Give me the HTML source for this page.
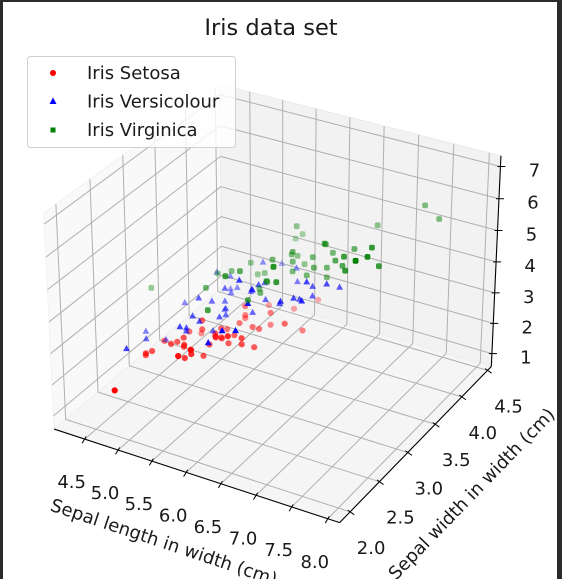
<!DOCTYPE html>
<html><head><meta charset="utf-8">
<style>
html,body{margin:0;padding:0;background:#fff;}
body{width:562px;height:579px;overflow:hidden;position:relative;font-family:"DejaVu Sans","Liberation Sans",sans-serif;}
svg text{font-family:"DejaVu Sans","Liberation Sans",sans-serif;fill:#1a1a1a;}
</style></head>
<body>
<svg id="chart" width="562" height="579" viewBox="0 0 562 579" xmlns="http://www.w3.org/2000/svg">
<rect x="0" y="0" width="562" height="579" fill="#fff"/>
<g id="panes"></g>
<g id="grid"></g>
<g id="axes"></g>
<g id="points"></g>
<g id="labels"></g>
<text x="271" y="35" font-size="22.5" text-anchor="middle">Iris data set</text>
<text x="0" y="0" font-size="18" text-anchor="middle" transform="translate(162,548) rotate(18.5)">Sepal length in width (cm)</text>
<text x="0" y="0" font-size="18" text-anchor="middle" transform="translate(476,498) rotate(-46)">Sepal width in width (cm)</text>
<g>
<rect x="27.5" y="56.5" width="208" height="91" rx="3" fill="#fff" fill-opacity="0.8" stroke="#d0d0d0"/>
<circle cx="53" cy="73" r="3" fill="#ff0000"/>
<text x="87" y="79" font-size="18">Iris Setosa</text>
<polygon points="53,97.5 56.5,104 49.5,104" fill="#0000ff"/>
<text x="87" y="107.5" font-size="18">Iris Versicolour</text>
<rect x="50.5" y="127.5" width="5" height="5" fill="#008000"/>
<text x="87" y="136" font-size="18">Iris Virginica</text>
</g>
<rect x="0" y="0" width="3" height="579" fill="#2b2b2b"/>
<rect x="0" y="0" width="562" height="2" fill="#2b2b2b"/>
<rect x="557" y="0" width="5" height="579" fill="#2b2b2b"/>
</svg>
<script>
// ---- data (Iris: sepal length, sepal width, petal length) ----
var setosaSL=[5.1,4.9,4.7,4.6,5.0,5.4,4.6,5.0,4.4,4.9,5.4,4.8,4.8,4.3,5.8,5.7,5.4,5.1,5.7,5.1,5.4,5.1,4.6,5.1,4.8,5.0,5.0,5.2,5.2,4.7,4.8,5.4,5.2,5.5,4.9,5.0,5.5,4.9,4.4,5.1,5.0,4.5,4.4,5.0,5.1,4.8,5.1,4.6,5.3,5.0];
var setosaSW=[3.5,3.0,3.2,3.1,3.6,3.9,3.4,3.4,2.9,3.1,3.7,3.4,3.0,3.0,4.0,4.4,3.9,3.5,3.8,3.8,3.4,3.7,3.6,3.3,3.4,3.0,3.4,3.5,3.4,3.2,3.1,3.4,4.1,4.2,3.1,3.2,3.5,3.1,3.0,3.4,3.5,2.3,3.2,3.5,3.8,3.0,3.8,3.2,3.7,3.3];
var setosaPL=[1.4,1.4,1.3,1.5,1.4,1.7,1.4,1.5,1.4,1.5,1.5,1.6,1.4,1.1,1.2,1.5,1.3,1.4,1.7,1.5,1.7,1.5,1.0,1.7,1.9,1.6,1.6,1.5,1.4,1.6,1.6,1.5,1.5,1.4,1.5,1.2,1.3,1.5,1.3,1.5,1.3,1.3,1.3,1.6,1.9,1.4,1.6,1.4,1.5,1.4];
var versiSL=[7.0,6.4,6.9,5.5,6.5,5.7,6.3,4.9,6.6,5.2,5.0,5.9,6.0,6.1,5.6,6.7,5.6,5.8,6.2,5.6,5.9,6.1,6.3,6.1,6.4,6.6,6.8,6.7,6.0,5.7,5.5,5.5,5.8,6.0,5.4,6.0,6.7,6.3,5.6,5.5,5.5,6.1,5.8,5.0,5.6,5.7,5.7,6.2,5.1,5.7];
var versiSW=[3.2,3.2,3.1,2.3,2.8,2.8,3.3,2.4,2.9,2.7,2.0,3.0,2.2,2.9,2.9,3.1,3.0,2.7,2.2,2.5,3.2,2.8,2.5,2.8,2.9,3.0,2.8,3.0,2.9,2.6,2.4,2.4,2.7,2.7,3.0,3.4,3.1,2.3,3.0,2.5,2.6,3.0,2.6,2.3,2.7,3.0,2.9,2.9,2.5,2.8];
var versiPL=[4.7,4.5,4.9,4.0,4.6,4.5,4.7,3.3,4.6,3.9,3.5,4.2,4.0,4.7,3.6,4.4,4.5,4.1,4.5,3.9,4.8,4.0,4.9,4.7,4.3,4.4,4.8,5.0,4.5,3.5,3.8,3.7,3.9,5.1,4.5,4.5,4.7,4.4,4.1,4.0,4.4,4.6,4.0,3.3,4.2,4.2,4.2,4.3,3.0,4.1];
var virgSL=[6.3,5.8,7.1,6.3,6.5,7.6,4.9,7.3,6.7,7.2,6.5,6.4,6.8,5.7,5.8,6.4,6.5,7.7,7.7,6.0,6.9,5.6,7.7,6.3,6.7,7.2,6.2,6.1,6.4,7.2,7.4,7.9,6.4,6.3,6.1,7.7,6.3,6.4,6.0,6.9,6.7,6.9,5.8,6.8,6.7,6.7,6.3,6.5,6.2,5.9];
var virgSW=[3.3,2.7,3.0,2.9,3.0,3.0,2.5,2.9,2.5,3.6,3.2,2.7,3.0,2.5,2.8,3.2,3.0,3.8,2.6,2.2,3.2,2.8,2.8,2.7,3.3,3.2,2.8,3.0,2.8,3.0,2.8,3.8,2.8,2.8,2.6,3.0,3.4,3.1,3.0,3.1,3.1,3.1,2.7,3.2,3.3,3.0,2.5,3.0,3.4,3.0];
var virgPL=[6.0,5.1,5.9,5.6,5.8,6.6,4.5,6.3,5.8,6.1,5.1,5.3,5.5,5.0,5.1,5.3,5.5,6.7,6.9,5.0,5.7,4.9,6.7,4.9,5.7,6.0,4.8,4.9,5.6,5.8,6.1,6.4,5.6,5.1,5.6,6.1,5.6,5.5,4.8,5.4,5.6,5.1,5.1,5.9,5.7,5.2,5.0,5.2,5.4,5.1];
var xTicks=[4.5,5.0,5.5,6.0,6.5,7.0,7.5,8.0];
var yTicks=[2.0,2.5,3.0,3.5,4.0,4.5];
var zTicks=[1,2,3,4,5,6,7];
var xTickLabels=["4.5","5.0","5.5","6.0","6.5","7.0","7.5","8.0"];
var yTickLabels=["2.0","2.5","3.0","3.5","4.0","4.5"];
var zTickLabels=["1","2","3","4","5","6","7"];

var NS="http://www.w3.org/2000/svg";
function mk(tag,attrs,parent){var e=document.createElementNS(NS,tag);for(var k in attrs)e.setAttribute(k,attrs[k]);parent.appendChild(e);return e;}
function mn(a){return Math.min.apply(null,a);} function mx(a){return Math.max.apply(null,a);}
var allX=setosaSL.concat(versiSL,virgSL), allY=setosaSW.concat(versiSW,virgSW), allZ=setosaPL.concat(versiPL,virgPL);
function lim(a){var lo=mn(a),hi=mx(a),r=hi-lo;return [lo-0.05*r,hi+0.05*r];}
var XV=lim(allX),YV=lim(allY),ZV=lim(allZ);
function pane(v){var r=(v[1]-v[0])/48;return [v[0]-r,v[1]+r];}
var XP=pane(XV),YP=pane(YV),ZP=pane(ZV);
var box=[4,4,3],bn=Math.sqrt(41),f=1.8294640721620434/bn;box=box.map(function(b){return b*f;});
var el=30*Math.PI/180,az=-60*Math.PI/180;
var w=[Math.cos(el)*Math.cos(az),Math.cos(el)*Math.sin(az),Math.sin(el)];
var R=[box[0]/2,box[1]/2,box[2]/2];
var eye=[R[0]+10*w[0],R[1]+10*w[1],R[2]+10*w[2]];
var un=Math.hypot(w[1],w[0]);var u=[-w[1]/un,w[0]/un,0];
var v=[w[1]*u[2]-w[2]*u[1],w[2]*u[0]-w[0]*u[2],w[0]*u[1]-w[1]*u[0]];
function raw(x,y,z){
  var X=(x-XV[0])/(XV[1]-XV[0])*box[0],Y=(y-YV[0])/(YV[1]-YV[0])*box[1],Z=(z-ZV[0])/(ZV[1]-ZV[0])*box[2];
  var d=[X-eye[0],Y-eye[1],Z-eye[2]];
  var xe=u[0]*d[0]+u[1]*d[1]+u[2]*d[2],ye=v[0]*d[0]+v[1]*d[1]+v[2]*d[2],ze=w[0]*d[0]+w[1]*d[1]+w[2]*d[2];
  return [xe/(-ze),ye/(-ze),-ze];
}
var anchors=[[XP[0],YP[0],ZP[0],54,428],[XP[1],YP[0],ZP[0],340,522],[XP[1],YP[1],ZP[0],490,369],[XP[1],YP[1],ZP[1],502,155]];
function fit(idx,pidx){var n=anchors.length,sa=0,sb=0,saa=0,sab=0;anchors.forEach(function(a){var p=raw(a[0],a[1],a[2])[idx];sa+=p;sb+=a[pidx];saa+=p*p;sab+=p*a[pidx];});var k=(n*sab-sa*sb)/(n*saa-sa*sa);return [k,(sb-k*sa)/n];}
var FX=fit(0,3),FY=fit(1,4);
function P(x,y,z){var r=raw(x,y,z);return [FX[1]+FX[0]*r[0],FY[1]+FY[0]*r[1],r[2]];}
function pts(list){return list.map(function(p){var q=P(p[0],p[1],p[2]);return q[0].toFixed(1)+","+q[1].toFixed(1);}).join(" ");}

var gP=document.getElementById('panes'),gG=document.getElementById('grid'),gA=document.getElementById('axes'),gPt=document.getElementById('points'),gL=document.getElementById('labels');
var e;
e=mk('polygon',{points:pts([[XP[0],YP[0],ZP[0]],[XP[0],YP[1],ZP[0]],[XP[0],YP[1],ZP[1]],[XP[0],YP[0],ZP[1]]]),fill:'#f9f9f9',stroke:'#f2f2f2'},gP);


e=mk('polygon',{points:pts([[XP[0],YP[1],ZP[0]],[XP[1],YP[1],ZP[0]],[XP[1],YP[1],ZP[1]],[XP[0],YP[1],ZP[1]]]),fill:'#f2f2f2',stroke:'#ebebeb'},gP);


e=mk('polygon',{points:pts([[XP[0],YP[0],ZP[0]],[XP[1],YP[0],ZP[0]],[XP[1],YP[1],ZP[0]],[XP[0],YP[1],ZP[0]]]),fill:'#f5f5f5',stroke:'#eeeeee'},gP);



function gl(a,b,name){var p=P(a[0],a[1],a[2]),q=P(b[0],b[1],b[2]);var l=mk('line',{x1:p[0],y1:p[1],x2:q[0],y2:q[1],stroke:'#b0b0b0','stroke-width':1},gG);

}
xTicks.forEach(function(t){if(t<XV[0]||t>XV[1])return;gl([t,YP[1],ZP[0]],[t,YP[1],ZP[1]],'grid-x-back');gl([t,YP[0],ZP[0]],[t,YP[1],ZP[0]],'grid-x-floor');});
yTicks.forEach(function(t){if(t<YV[0]||t>YV[1])return;gl([XP[0],t,ZP[0]],[XP[0],t,ZP[1]],'grid-y-side');gl([XP[0],t,ZP[0]],[XP[1],t,ZP[0]],'grid-y-floor');});
zTicks.forEach(function(t){if(t<ZV[0]||t>ZV[1])return;gl([XP[0],YP[0],t],[XP[0],YP[1],t],'grid-z-side');gl([XP[0],YP[1],t],[XP[1],YP[1],t],'grid-z-back');});

function al(a,b,name){var p=P(a[0],a[1],a[2]),q=P(b[0],b[1],b[2]);var l=mk('line',{x1:p[0],y1:p[1],x2:q[0],y2:q[1],stroke:'#000','stroke-width':1.1},gA);

}
al([XP[0],YP[0],ZP[0]],[XP[1],YP[0],ZP[0]],'x-axis-line');
al([XP[1],YP[0],ZP[0]],[XP[1],YP[1],ZP[0]],'y-axis-line');
al([XP[1],YP[1],ZP[0]],[XP[1],YP[1],ZP[1]],'z-axis-line');

function tick(pt,dx,dy,lx,ly,txt,name){
  var p=P(pt[0],pt[1],pt[2]);var n=Math.hypot(dx,dy);
  var l=mk('line',{x1:p[0]-dx/n*3,y1:p[1]-dy/n*3,x2:p[0]+dx/n*5,y2:p[1]+dy/n*5,stroke:'#000','stroke-width':1},gA);
  
  
  var t=mk('text',{x:p[0]+lx,y:p[1]+ly+6,'font-size':18,'text-anchor':'middle'},gL);
  t.textContent=txt;
  
  
}
xTicks.forEach(function(t,i){if(t<XV[0]||t>XV[1])return;tick([t,YP[0],ZP[0]],-0.6,1,-13,43,xTickLabels[i],'x-tick');});
yTicks.forEach(function(t,i){if(t<YV[0]||t>YV[1])return;tick([XP[1],t,ZP[0]],1,0.7,21,36,yTickLabels[i],'y-tick');});
zTicks.forEach(function(t,i){if(t<ZV[0]||t>ZV[1])return;tick([XP[1],YP[1],t],1,0,34,4,zTickLabels[i],'z-tick');});

var series=[{sl:setosaSL,sw:setosaSW,pl:setosaPL,c:'#ff0000',m:'o',n:'setosa'},{sl:versiSL,sw:versiSW,pl:versiPL,c:'#0000ff',m:'^',n:'versicolour'},{sl:virgSL,sw:virgSW,pl:virgPL,c:'#008000',m:'s',n:'virginica'}];
var all=[];
series.forEach(function(s){var arr=s.sl.map(function(x,i){return P(x,s.sw[i],s.pl[i]);});var ds=arr.map(function(a){return a[2];});var d0=mn(ds),d1=mx(ds);
  arr.forEach(function(a,i){all.push({x:a[0],y:a[1],d:a[2],al:1-0.7*((a[2]-d0)/((d1-d0)||1)),s:s});});});
all.sort(function(a,b){return b.d-a.d;});
all.forEach(function(p){var el;
  if(p.s.m==='o'){el=mk('circle',{cx:p.x.toFixed(1),cy:p.y.toFixed(1),r:3.1,fill:p.s.c,'fill-opacity':p.al.toFixed(2)},gPt);}
  else if(p.s.m==='^'){el=mk('polygon',{points:p.x.toFixed(1)+','+(p.y-3.6).toFixed(1)+' '+(p.x+3.4).toFixed(1)+','+(p.y+2.6).toFixed(1)+' '+(p.x-3.4).toFixed(1)+','+(p.y+2.6).toFixed(1),fill:p.s.c,'fill-opacity':p.al.toFixed(2)},gPt);}
  else {el=mk('rect',{x:(p.x-2.9).toFixed(1),y:(p.y-2.9).toFixed(1),width:5.8,height:5.8,rx:2,fill:p.s.c,'fill-opacity':p.al.toFixed(2)},gPt);}
  
  
});
</script>
</body></html>
